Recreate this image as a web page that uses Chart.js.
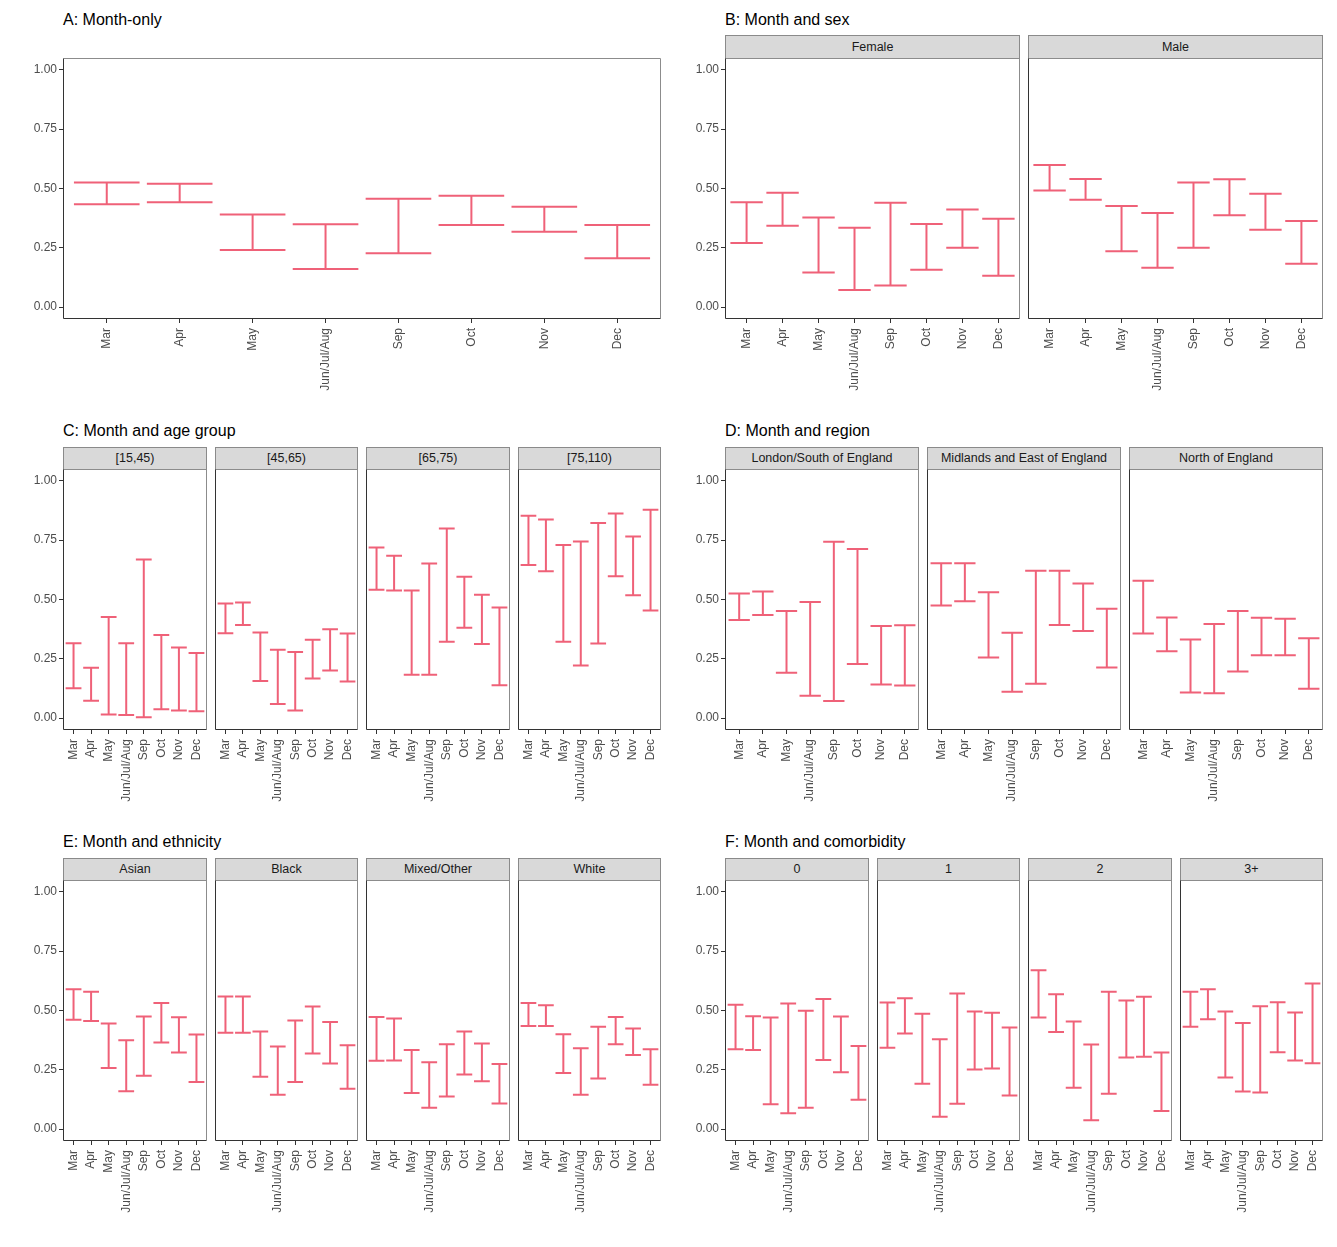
<!DOCTYPE html>
<html><head><meta charset="utf-8">
<script src="https://cdn.jsdelivr.net/npm/chart.js@4.4.1/dist/chart.umd.min.js"></script>
<style>
body{margin:0;background:#fff;}
#root{position:relative;width:1337px;height:1247px;overflow:hidden;font-family:'Liberation Sans',Arial,sans-serif;background:#fff;}
.title{position:absolute;font-size:16px;color:#000;line-height:20px;white-space:nowrap;}
.strip{position:absolute;box-sizing:border-box;background:#d9d9d9;border:1px solid #8a8a8a;font-size:12.5px;color:#1a1a1a;text-align:center;white-space:nowrap;}
canvas{position:absolute;}
</style></head><body><div id="root"></div>
<script>
// ---------------- DATA ----------------
const months = ['Mar','Apr','May','Jun/Jul/Aug','Sep','Oct','Nov','Dec'];
const yTickValues = [0, 0.25, 0.5, 0.75, 1];

// A: Month-only
const monthOnlyLow  = [0.434,0.442,0.241,0.161,0.227,0.346,0.318,0.206];
const monthOnlyHigh = [0.525,0.520,0.390,0.349,0.457,0.469,0.423,0.346];

// B: Month and sex
const sexLabels = ['Female','Male'];
const femaleLow  = [0.270,0.343,0.146,0.072,0.091,0.158,0.250,0.132];
const femaleHigh = [0.442,0.482,0.378,0.335,0.440,0.350,0.411,0.373];
const maleLow    = [0.492,0.453,0.236,0.166,0.250,0.387,0.326,0.183];
const maleHigh   = [0.599,0.540,0.426,0.397,0.525,0.539,0.478,0.363];

// C: Month and age group
const ageLabels = ['[15,45)','[45,65)','[65,75)','[75,110)'];
const age1545Low   = [0.126,0.073,0.015,0.013,0.004,0.037,0.032,0.029];
const age1545High  = [0.316,0.212,0.426,0.316,0.669,0.350,0.298,0.274];
const age4565Low   = [0.358,0.393,0.157,0.060,0.032,0.167,0.201,0.154];
const age4565High  = [0.483,0.487,0.361,0.288,0.279,0.330,0.375,0.357];
const age6575Low   = [0.541,0.538,0.183,0.183,0.322,0.381,0.312,0.139];
const age6575High  = [0.719,0.684,0.538,0.652,0.799,0.596,0.520,0.466];
const age75110Low  = [0.645,0.619,0.322,0.222,0.315,0.598,0.518,0.454];
const age75110High = [0.853,0.837,0.730,0.744,0.822,0.862,0.765,0.878];

// D: Month and region
const regionLabels = ['London/South of England','Midlands and East of England','North of England'];
const londonLow    = [0.414,0.435,0.191,0.094,0.072,0.228,0.142,0.138];
const londonHigh   = [0.525,0.534,0.452,0.489,0.743,0.713,0.388,0.392];
const midlandsLow  = [0.475,0.493,0.256,0.111,0.145,0.393,0.367,0.213];
const midlandsHigh = [0.653,0.653,0.531,0.360,0.621,0.621,0.567,0.461];
const northLow     = [0.357,0.282,0.108,0.105,0.197,0.265,0.265,0.124];
const northHigh    = [0.579,0.424,0.331,0.397,0.452,0.423,0.419,0.337];

// E: Month and ethnicity
const ethnicityLabels = ['Asian','Black','Mixed/Other','White'];
const asianLow  = [0.461,0.456,0.258,0.160,0.225,0.365,0.323,0.199];
const asianHigh = [0.590,0.579,0.445,0.375,0.475,0.532,0.472,0.399];
const blackLow  = [0.406,0.406,0.221,0.145,0.199,0.319,0.277,0.170];
const blackHigh = [0.559,0.559,0.412,0.348,0.458,0.517,0.452,0.354];
const mixedLow  = [0.288,0.289,0.152,0.090,0.138,0.230,0.202,0.108];
const mixedHigh = [0.473,0.466,0.334,0.282,0.358,0.412,0.361,0.275];
const whiteLow  = [0.435,0.435,0.237,0.145,0.213,0.358,0.312,0.187];
const whiteHigh = [0.532,0.522,0.400,0.341,0.431,0.473,0.424,0.337];

// F: Month and comorbidity
const comorbidityLabels = ['0','1','2','3+'];
const comorb0Low  = [0.337,0.333,0.105,0.067,0.090,0.291,0.240,0.124];
const comorb0High = [0.524,0.476,0.471,0.530,0.499,0.548,0.475,0.350];
const comorb1Low  = [0.343,0.403,0.191,0.052,0.107,0.251,0.256,0.142];
const comorb1High = [0.534,0.552,0.486,0.379,0.572,0.496,0.490,0.428];
const comorb2Low  = [0.471,0.409,0.174,0.037,0.149,0.302,0.305,0.076];
const comorb2High = [0.670,0.569,0.454,0.357,0.579,0.542,0.558,0.323];
const comorb3Low  = [0.431,0.463,0.218,0.159,0.154,0.324,0.289,0.278];
const comorb3High = [0.579,0.590,0.496,0.447,0.518,0.535,0.492,0.614];

// ---------------- PANELS ----------------
const panels = [
  {title:'A: Month-only', col:0, row:0, strip:false, facets:[
    {label:null, low:monthOnlyLow, high:monthOnlyHigh}]},
  {title:'B: Month and sex', col:1, row:0, strip:true, facets:[
    {label:sexLabels[0], low:femaleLow, high:femaleHigh},
    {label:sexLabels[1], low:maleLow, high:maleHigh}]},
  {title:'C: Month and age group', col:0, row:1, strip:true, facets:[
    {label:ageLabels[0], low:age1545Low, high:age1545High},
    {label:ageLabels[1], low:age4565Low, high:age4565High},
    {label:ageLabels[2], low:age6575Low, high:age6575High},
    {label:ageLabels[3], low:age75110Low, high:age75110High}]},
  {title:'D: Month and region', col:1, row:1, strip:true, facets:[
    {label:regionLabels[0], low:londonLow, high:londonHigh},
    {label:regionLabels[1], low:midlandsLow, high:midlandsHigh},
    {label:regionLabels[2], low:northLow, high:northHigh}]},
  {title:'E: Month and ethnicity', col:0, row:2, strip:true, facets:[
    {label:ethnicityLabels[0], low:asianLow, high:asianHigh},
    {label:ethnicityLabels[1], low:blackLow, high:blackHigh},
    {label:ethnicityLabels[2], low:mixedLow, high:mixedHigh},
    {label:ethnicityLabels[3], low:whiteLow, high:whiteHigh}]},
  {title:'F: Month and comorbidity', col:1, row:2, strip:true, facets:[
    {label:comorbidityLabels[0], low:comorb0Low, high:comorb0High},
    {label:comorbidityLabels[1], low:comorb1Low, high:comorb1High},
    {label:comorbidityLabels[2], low:comorb2Low, high:comorb2High},
    {label:comorbidityLabels[3], low:comorb3Low, high:comorb3High}]}
];

// ---------------- LAYOUT ----------------
const rows = [
  {titleY:20,  stripTop:35,  plotTop:58,  plotBottom:319},
  {titleY:431, stripTop:447, plotTop:469, plotBottom:730},
  {titleY:842, stripTop:858, plotTop:880, plotBottom:1141}
];
const cols = [{left:63, right:661}, {left:725, right:1323}];
const GAP = 8, PAD = 2, XH = 80, YW = 60;
const FONT = "'Liberation Sans', Arial, sans-serif";
const BAR_COLOR = '#ef6178';

const framePlugin = {id:'frame', beforeDatasetsDraw(chart){
  const a = chart.chartArea, ctx = chart.ctx;
  const l = Math.round(a.left)+0.5, r = Math.round(a.right)-0.5, t = Math.round(a.top)+0.5, b = Math.round(a.bottom)-0.5;
  ctx.save(); ctx.lineWidth = 1;
  ctx.strokeStyle = '#8c8c8c';
  ctx.beginPath(); ctx.moveTo(l,t); ctx.lineTo(r,t); ctx.lineTo(r,b); ctx.stroke();
  ctx.strokeStyle = '#333333';
  ctx.beginPath(); ctx.moveTo(l,t); ctx.lineTo(l,b); ctx.lineTo(r,b); ctx.stroke();
  ctx.restore();
}};

const errorBarPlugin = {id:'errbars', afterDatasetsDraw(chart){
  const ctx = chart.ctx, xs = chart.scales.x;
  const meta = chart.getDatasetMeta(0);
  const unit = xs.getPixelForValue(2) - xs.getPixelForValue(1);
  const half = unit * 0.45;
  ctx.save(); ctx.strokeStyle = BAR_COLOR; ctx.lineWidth = 2; ctx.lineCap = 'butt';
  meta.data.forEach(el => {
    const x = el.x, t = Math.min(el.y, el.base), b = Math.max(el.y, el.base);
    ctx.beginPath();
    ctx.moveTo(x, t - 1); ctx.lineTo(x, b + 1);
    ctx.moveTo(x - half, t); ctx.lineTo(x + half, t);
    ctx.moveTo(x - half, b); ctx.lineTo(x + half, b);
    ctx.stroke();
  });
  ctx.restore();
}};

const root = document.getElementById('root');

function addDiv(cls, text, style){
  const d = document.createElement('div');
  d.className = cls; d.textContent = text;
  Object.assign(d.style, style);
  root.appendChild(d);
  return d;
}

function makeChart(L, T, W, H, showY, low, high){
  const yw = showY ? YW : 0;
  const c = document.createElement('canvas');
  const cw = yw + W + PAD, ch = PAD + H + XH;
  c.width = cw; c.height = ch;
  c.style.left = (L - yw) + 'px'; c.style.top = (T - PAD) + 'px';
  c.style.width = cw + 'px'; c.style.height = ch + 'px';
  root.appendChild(c);
  const tickFont = {size:12, family:FONT};
  new Chart(c, {
    type:'bar',
    data:{datasets:[{
      data: months.map((m,i) => ({x:i+1, y:[low[i], high[i]]})),
      backgroundColor:'rgba(0,0,0,0)', borderWidth:0
    }]},
    options:{
      responsive:false, animation:false, events:[],
      layout:{padding:{top:PAD, right:PAD, left:0, bottom:0}},
      plugins:{legend:{display:false}, tooltip:{enabled:false}},
      scales:{
        x:{type:'linear', min:0.4, max:8.6, offset:false,
          afterBuildTicks: s => { s.ticks = months.map((m,i) => ({value:i+1})); },
          afterFit: s => { s.height = XH; s.paddingLeft = 0; s.paddingRight = 0; },
          ticks:{autoSkip:false, maxRotation:90, minRotation:90, font:tickFont, color:'#4d4d4d', padding:5,
            callback: v => months[Math.round(v)-1]},
          grid:{display:true, drawOnChartArea:false, drawTicks:true, tickLength:4, tickColor:'#333333', offset:false},
          border:{display:false}
        },
        y:{type:'linear', min:-0.05, max:1.05, display:showY,
          afterBuildTicks: s => { s.ticks = yTickValues.map(v => ({value:v})); },
          afterFit: s => { s.width = yw; s.paddingTop = 0; s.paddingBottom = 0; },
          ticks:{font:tickFont, color:'#4d4d4d', padding:2, callback: v => Number(v).toFixed(2)},
          grid:{display:true, drawOnChartArea:false, drawTicks:true, tickLength:4, tickColor:'#333333'},
          border:{display:false}
        }
      }
    },
    plugins:[framePlugin, errorBarPlugin]
  });
}

panels.forEach(p => {
  const r = rows[p.row], col = cols[p.col];
  addDiv('title', p.title, {left: col.left + 'px', top: (r.titleY - 10) + 'px'});
  const n = p.facets.length;
  const fw = (col.right - col.left - GAP*(n-1)) / n;
  const T = r.plotTop, H = r.plotBottom - r.plotTop;
  p.facets.forEach((f, i) => {
    const L = Math.round(col.left + i*(fw + GAP));
    const R = Math.round(col.left + i*(fw + GAP) + fw);
    const W = R - L;
    if (p.strip) {
      const sh = T - r.stripTop + 1;
      addDiv('strip', f.label, {left: L + 'px', top: r.stripTop + 'px', width: W + 'px', height: sh + 'px', lineHeight: (sh - 2) + 'px'});
    }
    makeChart(L, T, W, H, i === 0, f.low, f.high);
  });
});
</script>
</body></html>
